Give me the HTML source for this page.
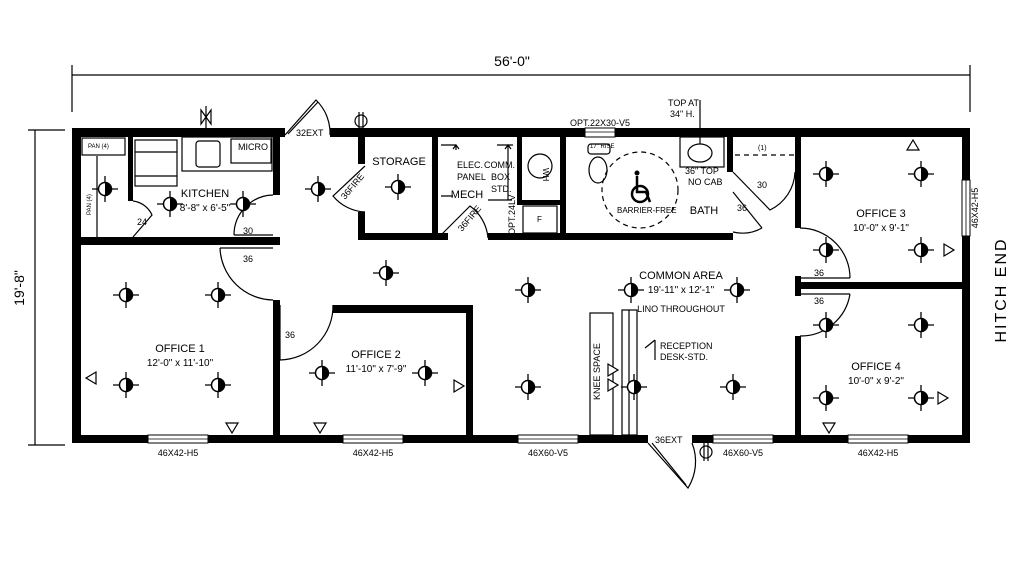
<!DOCTYPE html>
<html><head><meta charset="utf-8"><style>
html,body{margin:0;padding:0;background:#fff}
svg{display:block}
text{font-family:"Liberation Sans Narrow","Liberation Sans",sans-serif;fill:#000}
</style></head><body>
<svg width="1024" height="570" viewBox="0 0 1024 570" xmlns="http://www.w3.org/2000/svg">
<defs>
<g id="lt"><line x1="-13" y1="0" x2="13" y2="0" stroke="#000" stroke-width="1.3"/><line x1="0" y1="-13" x2="0" y2="13" stroke="#000" stroke-width="1.3"/><circle r="6.5" fill="#fff" stroke="#000" stroke-width="1.5"/><path d="M0,-6.5 A6.5,6.5 0 0 1 0,6.5 Z" fill="#000"/></g>
</defs>
<g stroke="#000" stroke-width="1.2" fill="none">
<line x1="72" y1="75" x2="970" y2="75"/>
<line x1="72" y1="65" x2="72" y2="112"/>
<line x1="970" y1="65" x2="970" y2="112"/>
<line x1="35" y1="130" x2="35" y2="445"/>
<line x1="28" y1="130" x2="65" y2="130"/>
<line x1="28" y1="445" x2="65" y2="445"/>
</g>
<text x="512" y="66" font-size="14" text-anchor="middle">56'-0"</text>
<text transform="translate(24,288) rotate(-90)" font-size="14" text-anchor="middle">19'-8"</text>
<text transform="translate(1006,290) rotate(-90)" font-size="16" text-anchor="middle" letter-spacing="2">HITCH END</text>

<g fill="#000">
<rect x="72" y="128" width="213" height="9"/>
<rect x="330" y="128" width="640" height="9"/>
<rect x="72" y="128" width="9" height="315"/>
<rect x="962" y="128" width="8" height="52"/>
<rect x="962" y="236" width="8" height="207"/>
<rect x="72" y="435" width="576" height="8"/>
<rect x="692" y="435" width="278" height="8"/>
<rect x="81" y="237" width="199" height="8"/>
<rect x="273" y="137" width="7" height="58"/>
<rect x="128" y="137" width="5" height="64"/>
<rect x="273" y="300" width="7" height="143"/>
<rect x="333" y="305" width="140" height="8"/>
<rect x="466" y="305" width="7" height="138"/>
<rect x="358" y="137" width="7" height="27"/>
<rect x="358" y="212" width="7" height="28"/>
<rect x="358" y="233" width="90" height="7"/>
<rect x="432" y="137" width="6" height="103"/>
<rect x="488" y="233" width="245" height="7"/>
<rect x="517" y="137" width="5" height="68"/>
<rect x="517" y="200" width="43" height="5"/>
<rect x="560" y="137" width="6" height="103"/>
<rect x="727" y="137" width="6" height="35"/>
<rect x="795" y="137" width="6" height="91"/>
<rect x="795" y="282" width="167" height="7"/>
<rect x="795" y="276" width="6" height="20"/>
<rect x="795" y="336" width="6" height="107"/>
</g>
<g fill="#fff" stroke="#000" stroke-width="1">
<rect x="148" y="435" width="60" height="8"/><rect x="343" y="435" width="60" height="8"/>
<rect x="518" y="435" width="60" height="8"/><rect x="713" y="435" width="60" height="8"/>
<rect x="848" y="435" width="60" height="8"/><rect x="962" y="180" width="8" height="56"/>
<rect x="585" y="128" width="30" height="9"/>
</g>
<g stroke="#000" stroke-width="0.8">
<line x1="148" y1="439" x2="208" y2="439"/><line x1="343" y1="439" x2="403" y2="439"/>
<line x1="518" y1="439" x2="578" y2="439"/><line x1="713" y1="439" x2="773" y2="439"/>
<line x1="848" y1="439" x2="908" y2="439"/><line x1="966" y1="180" x2="966" y2="236"/>
<line x1="585" y1="132" x2="615" y2="132"/>
</g>
<g font-size="9" text-anchor="middle">
<text x="178" y="456">46X42-H5</text><text x="373" y="456">46X42-H5</text>
<text x="548" y="456">46X60-V5</text><text x="743" y="456">46X60-V5</text>
<text x="878" y="456">46X42-H5</text>
<text transform="translate(978,208) rotate(-90)">46X42-H5</text>
<text x="600" y="126">OPT.22X30-V5</text>
</g>
<g fill="none" stroke="#000" stroke-width="1.2">
<path d="M285,135 L316,100 A46,46 0 0 1 330,135"/>
<line x1="288" y1="134" x2="318" y2="102"/>
<path d="M365,166 L333,196 A44,44 0 0 0 365,212"/>
<path d="M438,238 L470,206 A44,44 0 0 1 488,238"/>
<path d="M133,237 L152,215 A24,24 0 0 0 133,201"/>
<path d="M234,235 L273,235 M234,235 A40,40 0 0 1 273,195"/>
<path d="M220,248 L273,248 M220,248 A54,54 0 0 0 273,300"/>
<path d="M280,305 L280,360 M280,360 A54,54 0 0 0 333,305"/>
<path d="M733,172 L770,210 A44,44 0 0 0 795,172"/>
<path d="M733,192 L762,228 M733,232 A40,40 0 0 0 762,228"/>
<path d="M800,278 L850,278 M800,228 A50,50 0 0 1 850,278"/>
<path d="M800,294 L850,294 M850,294 A50,50 0 0 1 800,336"/>
<path d="M648,443 L688,488 A50,50 0 0 0 692,443"/>
<line x1="652" y1="443" x2="686" y2="485"/>
<rect x="590" y="313" width="23" height="122"/>
<rect x="622" y="310" width="15" height="125"/>
<line x1="629" y1="310" x2="629" y2="435"/>
<rect x="135" y="140" width="42" height="46"/>
<line x1="135" y1="152" x2="177" y2="152"/><line x1="135" y1="176" x2="177" y2="176"/>
<rect x="182" y="137" width="90" height="34"/>
<rect x="196" y="141" width="24" height="26" rx="3"/>
<rect x="231" y="139" width="40" height="24"/>
<rect x="82" y="138" width="43" height="17"/>
<line x1="97" y1="156" x2="97" y2="237"/>
<circle cx="540" cy="166" r="12"/>
<rect x="523" y="206" width="34" height="27"/>
<path d="M441,145 L456,145 M456,145 L456,150 M453,149 L456,145 L459,149 M441,196 L453,196 M497,145 L513,145 M508,145 L508,200 M505,149 L508,145 L511,149 M488,200 L512,200"/>
<ellipse cx="598" cy="170" rx="9" ry="13"/>
<rect x="588" y="144" width="22" height="10" rx="3"/>
<rect x="680" y="137" width="44" height="30"/>
<ellipse cx="700" cy="153" rx="12" ry="9"/>
<circle cx="640" cy="190" r="38" stroke-dasharray="5,4"/>
<line x1="735" y1="155" x2="795" y2="155" stroke-dasharray="5,4"/>
<line x1="700" y1="100" x2="700" y2="144"/>
<line x1="645" y1="348" x2="655" y2="340"/>
<line x1="655" y1="340" x2="655" y2="360"/>
<circle cx="361" cy="121" r="6"/><line x1="359" y1="112" x2="359" y2="130"/><line x1="363" y1="112" x2="363" y2="130"/>
<circle cx="706" cy="452" r="6"/><line x1="704" y1="443" x2="704" y2="461"/><line x1="708" y1="443" x2="708" y2="461"/>
<path d="M201,110 L211,124 L211,110 L201,124 Z M206,106 L206,128"/>
</g>
<g fill="none" stroke="#000" stroke-width="2.5">
<circle cx="640" cy="194" r="8"/>
<path d="M637,176 L637,192 L646,192 L650,202"/>
</g>
<circle cx="637" cy="173" r="2.5"/>
<g fill="#fff" stroke="#000" stroke-width="1.2">
<path d="M226,423 L238,423 L232,433 Z"/><path d="M314,423 L326,423 L320,433 Z"/>
<path d="M823,423 L835,423 L829,433 Z"/><path d="M96,372 L96,384 L86,378 Z"/>
<path d="M454,380 L454,392 L464,386 Z"/><path d="M938,392 L938,404 L948,398 Z"/>
<path d="M944,244 L944,256 L954,250 Z"/><path d="M907,150 L919,150 L913,140 Z"/>
<path d="M608,364 L608,376 L618,370 Z"/><path d="M608,379 L608,391 L618,385 Z"/>
</g>
<use href="#lt" x="105" y="189"/><use href="#lt" x="170" y="204"/><use href="#lt" x="243" y="204"/>
<use href="#lt" x="318" y="189"/><use href="#lt" x="398" y="187"/><use href="#lt" x="386" y="273"/>
<use href="#lt" x="528" y="290"/><use href="#lt" x="631" y="290"/><use href="#lt" x="737" y="290"/>
<use href="#lt" x="528" y="387"/><use href="#lt" x="634" y="387"/><use href="#lt" x="733" y="387"/>
<use href="#lt" x="126" y="295"/><use href="#lt" x="218" y="295"/><use href="#lt" x="126" y="385"/><use href="#lt" x="218" y="385"/>
<use href="#lt" x="322" y="373"/><use href="#lt" x="425" y="373"/>
<use href="#lt" x="826" y="174"/><use href="#lt" x="921" y="174"/><use href="#lt" x="826" y="250"/><use href="#lt" x="921" y="250"/>
<use href="#lt" x="826" y="325"/><use href="#lt" x="921" y="325"/><use href="#lt" x="826" y="398"/><use href="#lt" x="921" y="398"/>
<g font-size="11" text-anchor="middle">
<text x="205" y="197">KITCHEN</text><text x="205" y="211" font-size="10">8'-8" x 6'-5"</text>
<text x="399" y="165">STORAGE</text>
<text x="180" y="352">OFFICE 1</text><text x="180" y="366" font-size="10">12'-0" x 11'-10"</text>
<text x="376" y="358">OFFICE 2</text><text x="376" y="372" font-size="10">11'-10" x 7'-9"</text>
<text x="681" y="279">COMMON AREA</text><text x="681" y="293" font-size="10">19'-11" x 12'-1"</text>
<text x="681" y="312" font-size="9">LINO THROUGHOUT</text>
<text x="881" y="217">OFFICE 3</text><text x="881" y="231" font-size="10">10'-0" x 9'-1"</text>
<text x="876" y="370">OFFICE 4</text><text x="876" y="384" font-size="10">10'-0" x 9'-2"</text>
<text x="704" y="214">BATH</text>
<text x="467" y="198">MECH</text>
</g>
<g font-size="9">
<text x="457" y="168">ELEC.</text><text x="457" y="180">PANEL</text>
<text x="484" y="168">COMM.</text><text x="491" y="180">BOX</text><text x="491" y="192">STD.</text>
<text x="238" y="150">MICRO</text><text x="88" y="148" font-size="6">PAN (4)</text>
<text x="617" y="213" font-size="8">BARRIER-FREE</text>
<text x="685" y="174">36" TOP</text><text x="688" y="185">NO CAB</text>
<text x="668" y="106">TOP AT</text><text x="670" y="117">34" H.</text>
<text x="296" y="136">32EXT</text><text x="655" y="443">36EXT</text>
<text x="660" y="349">RECEPTION</text><text x="660" y="360">DESK-STD.</text>
<text x="243" y="234">30</text><text x="243" y="262">36</text><text x="137" y="225">24</text>
<text x="285" y="338">36</text><text x="757" y="188">30</text><text x="737" y="211">36</text>
<text x="814" y="276">36</text><text x="814" y="304">36</text><text x="758" y="150" font-size="7">(1)</text>
<text x="590" y="148" font-size="6">17" RISE</text>
<text transform="translate(345,200) rotate(-50)">36FIRE</text>
<text transform="translate(462,232) rotate(-50)">36FIRE</text>
<text transform="translate(600,400) rotate(-90)">KNEE SPACE</text>
<text transform="translate(515,235) rotate(-90)">OPT.24LV</text>
<text transform="translate(543,168) rotate(90)" font-size="8">WH</text>
<text x="537" y="222" font-size="8">F</text>
<text transform="translate(91,215) rotate(-90)" font-size="6">PAN (4)</text>
</g>
</svg>
</body></html>
